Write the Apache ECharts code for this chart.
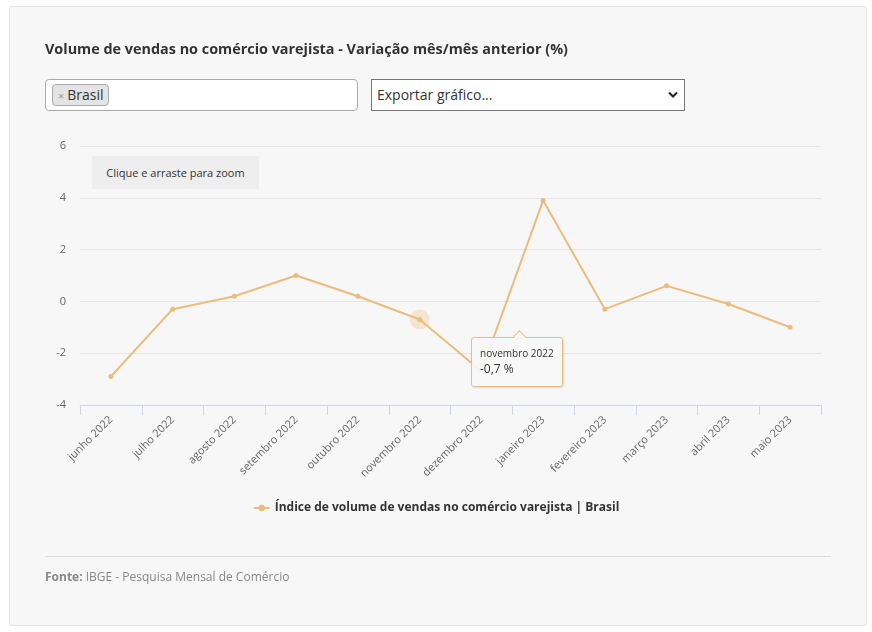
<!DOCTYPE html>
<html>
<head>
<meta charset="utf-8">
<script src="https://cdn.jsdelivr.net/npm/echarts@6/dist/echarts.min.js"></script>
<style>
  html,body{margin:0;padding:0;background:#fff;font-family:"Open Sans",sans-serif;}
  #card{position:absolute;left:9px;top:6px;width:856px;height:618px;background:#f7f7f7;border:1px solid #e6e6e6;border-radius:3px;}
  #chart{position:absolute;left:0;top:0;width:872px;height:632px;}
  .abs{position:absolute;}
  #title{left:45px;top:39px;font-size:14.4px;font-weight:bold;color:#333;white-space:nowrap;}
  #multi{left:45px;top:79px;width:311px;height:30px;background:#fff;border:1px solid #aaa;border-radius:4px;}
  #tag{left:6px;top:4px;height:20px;line-height:20px;padding:0 4px 0 5px;background:#e4e4e4;border:1px solid #aaa;border-radius:4px;font-size:14px;color:#333;}
  #tag span{color:#999;font-size:11px;margin-right:3px;}
  #sel{left:371px;top:79px;width:312px;height:30px;background:#fff;border:1px solid #767676;}
  #sel .t{position:absolute;left:5px;top:5px;font-size:14px;color:#333;}
  #sel svg{position:absolute;right:6px;top:11px;}
  #zoombtn{left:92px;top:156px;width:167px;height:33px;line-height:33px;text-align:center;background:#eeeeee;font-size:11px;color:#333;}
  #sep{left:45px;top:556px;width:786px;height:1px;background:#dcdcdc;}
  #fonte{left:45px;top:568px;font-size:12px;color:#888;}
</style>
</head>
<body>
<div id="card"></div>
<div id="chart"></div>
<div class="abs" id="title">Volume de vendas no comércio varejista - Variação mês/mês anterior (%)</div>
<div class="abs" id="multi"><div class="abs" id="tag"><span>×</span>Brasil</div></div>
<div class="abs" id="sel"><div class="t">Exportar gráfico...</div>
  <svg width="10" height="8" viewBox="0 0 10 8"><path d="M1 1.5 L5 5.5 L9 1.5" fill="none" stroke="#222" stroke-width="2"/></svg></div>
<div class="abs" id="zoombtn">Clique e arraste para zoom</div>
<div class="abs" id="sep"></div>
<div class="abs" id="fonte"><b>Fonte:</b> IBGE - Pesquisa Mensal de Comércio</div>
<script>
const categories = ["junho 2022","julho 2022","agosto 2022","setembro 2022","outubro 2022","novembro 2022","dezembro 2022","janeiro 2023","fevereiro 2023","março 2023","abril 2023","maio 2023"];
const values = [-2.9,-0.3,0.2,1.0,0.2,-0.7,-2.7,3.9,-0.3,0.6,-0.1,-1.0];
const yTicks = {min:-4,max:6,interval:2};
const seriesName = "Índice de volume de vendas no comércio varejista | Brasil";
const hoverIndex = 5;
const lineColor = "#ebbd7c";

const chart = echarts.init(document.getElementById('chart'), null, {renderer:'canvas'});
chart.setOption({
  animation:false,
  backgroundColor:'transparent',
  textStyle:{fontFamily:'"Open Sans", sans-serif'},
  grid:{left:80,right:51,top:146,bottom:227,containLabel:false},
  xAxis:{
    type:'category',data:categories,boundaryGap:true,
    axisLine:{onZero:false,lineStyle:{color:'#ccd6eb',width:1}},
    axisTick:{show:true,length:10,lineStyle:{color:'#ccd6eb'}},
    axisLabel:{rotate:45,color:'#666',fontSize:11,margin:13,interval:0}
  },
  yAxis:{
    type:'value',min:yTicks.min,max:yTicks.max,interval:yTicks.interval,
    axisLine:{show:false},axisTick:{show:false},
    axisLabel:{color:'#666',fontSize:11,margin:14},
    splitLine:{lineStyle:{color:'#e6e6e6'}}
  },
  legend:{
    bottom:113,left:'center',itemWidth:16,itemHeight:8,itemGap:10,
    textStyle:{color:'#333',fontSize:12,fontWeight:'bold'},
    data:[seriesName]
  },
  tooltip:{
    trigger:'item',alwaysShowContent:true,transitionDuration:0,
    backgroundColor:'rgba(247,247,247,0.9)',borderColor:lineColor,borderWidth:1,
    padding:[8,8,8,8],
    extraCssText:'box-shadow:1px 1px 2px rgba(0,0,0,0.12);border-radius:3px;overflow:visible;width:74px;',
    position:function(point,params,dom,rect,size){
      const p = chart.convertToPixel({xAxisIndex:0,yAxisIndex:0},[params.dataIndex,params.value]);
      return [p[0]+51,p[1]+17];
    },
    formatter:function(p){
      return '<div style="position:relative;font-family:\'Open Sans\',sans-serif;">'+
        '<div style="position:absolute;left:35px;top:-14px;width:8px;height:8px;background:#f7f7f7;border-left:1px solid '+lineColor+';border-top:1px solid '+lineColor+';transform:rotate(45deg);"></div>'+
        '<div style="font-size:10px;color:#333;line-height:14px;">'+p.name+'</div>'+
        '<div style="font-size:12px;color:#333;line-height:18px;">'+String(p.value).replace('.',',')+' %</div></div>';
    }
  },
  series:[{
    name:seriesName,type:'line',data:values,
    symbol:'circle',symbolSize:5,
    lineStyle:{color:lineColor,width:2},
    itemStyle:{color:lineColor},
    emphasis:{disabled:true},
    markPoint:{
      silent:true,
      symbol:'circle',symbolSize:20,
      itemStyle:{color:'rgba(235,189,124,0.3)'},
      label:{show:false},
      data:[{coord:[hoverIndex,values[hoverIndex]]}]
    }
  }]
});
chart.dispatchAction({type:'showTip',seriesIndex:0,dataIndex:hoverIndex});
</script>
</body>
</html>
